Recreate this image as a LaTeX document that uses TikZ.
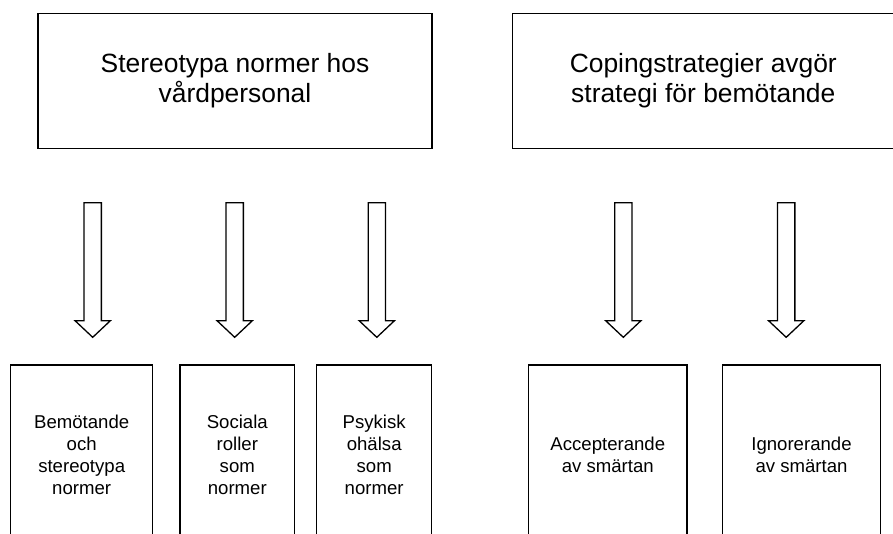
\documentclass[tikz,border=0pt]{standalone}
\usepackage{fontspec}
\setmainfont{Liberation Sans}
\begin{document}
\begin{tikzpicture}[x=1pt,y=-1pt,
  topbox/.style={draw=black,line width=1.5pt,fill=white,inner sep=0pt,align=center,
    font=\fontsize{26.4}{30}\selectfont},
  lowbox/.style={draw=black,line width=1.5pt,fill=white,inner sep=0pt,align=center,
    minimum height=180pt,font=\fontsize{18.6}{22}\selectfont},
  arrowline/.style={draw=black,line width=1.3pt,fill=white,line join=miter}
]
\useasboundingbox (0,0) rectangle (893,533);
\clip (0,0) rectangle (893,533);
% top boxes
\node[topbox,minimum width=394pt,minimum height=134.6pt] (t1) at (235,81)
  {Stereotypa normer hos\\vårdpersonal};
\node[topbox,minimum width=382pt,minimum height=134.6pt] (t2) at (703.3,81)
  {Copingstrategier avgör\\strategi för bemötande};
% block arrows
\foreach \cx in {92.7,234.7,376.8,623.3,786.2}{
  \path[arrowline] ({\cx-8.65},202.7) -- ({\cx-8.65},320.7) -- ({\cx-17.65},320.7)
    -- (\cx,337.3) -- ({\cx+17.65},320.7) -- ({\cx+8.65},320.7)
    -- ({\cx+8.65},202.7) -- cycle;
}
% bottom boxes (open at the lower edge of the picture)
\node[lowbox,minimum width=142pt] (b1) at (81.7,455) {Bemötande\\och\\stereotypa\\normer};
\node[lowbox,minimum width=114.7pt] (b2) at (237.3,455) {Sociala\\roller\\som\\normer};
\node[lowbox,minimum width=115pt] (b3) at (374.2,455) {Psykisk\\ohälsa\\som\\normer};
\node[lowbox,minimum width=158.3pt] (b4) at (607.8,455) {Accepterande\\av smärtan};
\node[lowbox,minimum width=157.6pt] (b5) at (801.5,455) {Ignorerande\\av smärtan};
\end{tikzpicture}
\end{document}
